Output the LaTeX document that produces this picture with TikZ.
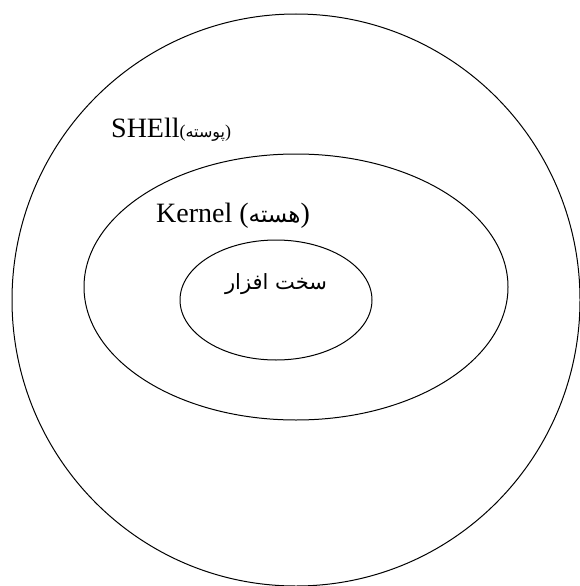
\documentclass[tikz,border=0pt]{standalone}
\usepackage{fontspec}
\setmainfont{Liberation Serif}
\newfontfamily\arabicfont[Script=Arabic]{DejaVu Sans}
\TeXXeTstate=1
\tikzset{
	layer/.style={draw=black,line width=1pt},
	label text/.style={inner sep=0pt,font=\fontsize{28}{31}\selectfont}
}
\begin{document}
\begin{tikzpicture}[x=1pt,y=-1pt]
	\useasboundingbox (0,0) rectangle (580,586);
	\clip (0,0) rectangle (580,586);
	% layers: outer shell, kernel, hardware
	\def\cx{296}
	\draw[layer] (\cx,300) ellipse [x radius=284, y radius=286];
	\draw[layer] (\cx,287) ellipse [x radius=212, y radius=133];
	\draw[layer] (276,300) ellipse [x radius=96, y radius=60];
	% labels
	\node[label text,anchor=base west] (shell) at (111,137)
		{SHEll{\fontsize{18}{20}\selectfont(}{\fontsize{16}{18}\selectfont\arabicfont\beginR پوسته\endR}{\fontsize{18}{20}\selectfont)}};
	\node[label text,anchor=base west] (kernel) at (156,222)
		{Kernel ({\fontsize{23}{25}\selectfont\arabicfont\beginR هسته\endR})};
	\node[label text] (hardware) at (276,284)
		{\fontsize{21}{24}\selectfont\arabicfont\beginR سخت افزار\endR};
\end{tikzpicture}
\end{document}
